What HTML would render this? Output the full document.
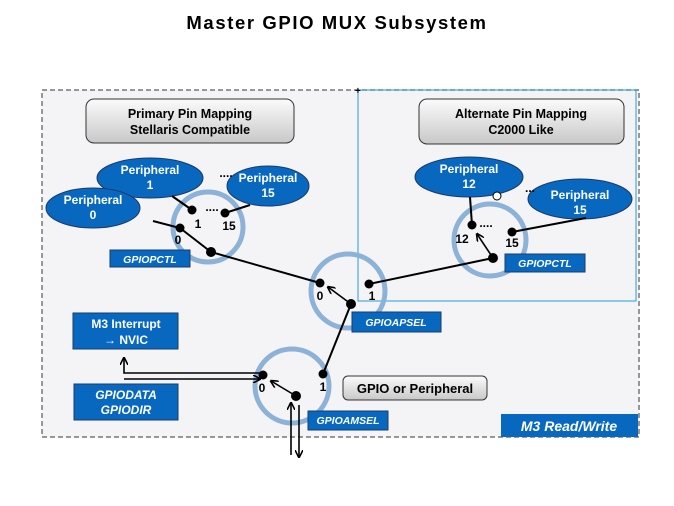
<!DOCTYPE html>
<html><head><meta charset="utf-8"><style>
html,body{margin:0;padding:0;background:#fff;}
svg{display:block;}
text{font-family:"Liberation Sans",Arial,sans-serif;font-weight:bold;}
</style></head><body>
<svg width="674" height="506" viewBox="0 0 674 506" xmlns="http://www.w3.org/2000/svg">
<defs>
<linearGradient id="g" x1="0" y1="0" x2="0" y2="1">
<stop offset="0" stop-color="#fbfbfb"/><stop offset="1" stop-color="#c8c8c8"/>
</linearGradient>
<marker id="ah" markerWidth="8" markerHeight="8" refX="7" refY="4" orient="auto" markerUnits="userSpaceOnUse">
<path d="M0,0 L8,4 L0,8" fill="none" stroke="#000" stroke-width="1.6"/>
</marker>
</defs>
<text x="337" y="29" font-size="18.5" letter-spacing="1.6" text-anchor="middle" fill="#000">Master GPIO MUX Subsystem</text>
<rect x="42" y="90" width="597" height="347" fill="#f4f4f7" stroke="#777" stroke-width="1.5" stroke-dasharray="5,3"/>
<rect x="358" y="90" width="278" height="211" fill="none" stroke="#2a9ad8" stroke-width="1"/>
<text x="355" y="94" font-size="10" font-weight="normal" fill="#000">+</text>

<rect x="86" y="99" width="208" height="44" rx="8" fill="url(#g)" stroke="#333" stroke-width="1"/>
<text x="190" y="118" font-size="12.5" text-anchor="middle">Primary Pin Mapping</text>
<text x="190" y="134" font-size="12.5" text-anchor="middle">Stellaris Compatible</text>
<rect x="419" y="99" width="205" height="45" rx="8" fill="url(#g)" stroke="#333" stroke-width="1"/>
<text x="521" y="118" font-size="12.5" text-anchor="middle">Alternate Pin Mapping</text>
<text x="521" y="134" font-size="12.5" text-anchor="middle">C2000 Like</text>

<g fill="none" stroke="#8cb2d8" stroke-width="5">
<circle cx="208" cy="227" r="35"/>
<circle cx="348" cy="291" r="37"/>
<circle cx="490" cy="240" r="36"/>
<circle cx="292" cy="386" r="37"/>
</g>

<g fill="#0868c0" stroke="#1a3a6a" stroke-width="1">
<ellipse cx="150" cy="178" rx="53" ry="20"/>
<ellipse cx="93" cy="208" rx="47" ry="20"/>
<ellipse cx="268" cy="186" rx="41" ry="20"/>
<ellipse cx="469" cy="177" rx="54" ry="20"/>
<ellipse cx="580" cy="199" rx="52" ry="20"/>
</g>
<g fill="#fff" font-size="12" text-anchor="middle">
<text x="150" y="174">Peripheral</text><text x="150" y="189">1</text>
<text x="93" y="204">Peripheral</text><text x="93" y="219">0</text>
<text x="268" y="182">Peripheral</text><text x="268" y="197">15</text>
<text x="469" y="173">Peripheral</text><text x="469" y="188">12</text>
<text x="580" y="199">Peripheral</text><text x="580" y="214">15</text>
</g>
<g font-size="12" text-anchor="middle" fill="#000">
<text x="226" y="177">....</text>
<text x="212" y="211">....</text>
<text x="530" y="192">...</text>
<text x="486" y="227">....</text>
</g>
<circle cx="497" cy="196" r="4" fill="#fff" stroke="#000" stroke-width="1"/>

<g stroke="#000" stroke-width="2" fill="none">
<line x1="172" y1="196" x2="192" y2="210"/>
<line x1="250" y1="205" x2="225" y2="213"/>
<polyline points="153,221 180,228 211,252 320,283"/>
<line x1="470" y1="197" x2="472" y2="225"/>
<line x1="586" y1="218" x2="512" y2="232"/>
<line x1="493" y1="258" x2="369" y2="284"/>
<line x1="351" y1="304" x2="323" y2="374"/>
</g>
<g stroke="#000" stroke-width="1.6" fill="none">
<line x1="351" y1="304" x2="328" y2="287" marker-end="url(#ah)"/>
<line x1="493" y1="258" x2="477" y2="234" marker-end="url(#ah)"/>
<line x1="296" y1="396" x2="271" y2="381" marker-end="url(#ah)"/>
<polyline points="263,373 124,373 124,358" marker-end="url(#ah)"/>
<line x1="124" y1="379" x2="260" y2="379" marker-end="url(#ah)"/>
<line x1="291" y1="455" x2="291" y2="403" marker-end="url(#ah)"/>
<line x1="299" y1="405" x2="299" y2="457" marker-end="url(#ah)"/>
</g>
<g fill="#000">
<circle cx="192" cy="210" r="4.5"/><circle cx="225" cy="213" r="4.5"/>
<circle cx="180" cy="228" r="4.5"/><circle cx="211" cy="252" r="5"/>
<circle cx="320" cy="283" r="4.5"/><circle cx="369" cy="284" r="4.5"/>
<circle cx="351" cy="304" r="5"/>
<circle cx="472" cy="225" r="4.5"/><circle cx="512" cy="232" r="4.5"/>
<circle cx="493" cy="258" r="5"/>
<circle cx="263" cy="375" r="4.5"/><circle cx="323" cy="374" r="4.5"/>
<circle cx="296" cy="396" r="5"/>
</g>
<g font-size="12" text-anchor="middle" fill="#000">
<text x="198" y="228">1</text><text x="229" y="230">15</text><text x="178" y="244">0</text>
<text x="320" y="300">0</text><text x="372" y="300">1</text>
<text x="462" y="243">12</text><text x="512" y="247">15</text>
<text x="262" y="392">0</text><text x="323" y="391">1</text>
</g>

<g fill="#0868c0" stroke="#1a3a6a" stroke-width="1">
<rect x="110" y="250" width="80" height="17"/>
<rect x="505" y="254" width="80" height="18"/>
<rect x="352" y="312" width="89" height="20"/>
<rect x="308" y="411" width="80" height="19"/>
<rect x="73" y="313" width="105" height="36"/>
<rect x="74" y="384" width="104" height="36"/>
</g>
<rect x="501" y="414" width="137" height="23" fill="#0868c0"/>
<g fill="#fff" font-size="10.5" font-style="italic" font-weight="normal" text-anchor="middle">
<text x="150" y="263">GPIOPCTL</text>
<text x="545" y="267">GPIOPCTL</text>
<text x="396" y="326">GPIOAPSEL</text>
<text x="348" y="424">GPIOAMSEL</text>
</g>
<g fill="#fff" font-size="12" text-anchor="middle">
<text x="126" y="328">M3 Interrupt</text>
<text x="126" y="344">→ NVIC</text>
<text x="126" y="399" font-style="italic">GPIODATA</text>
<text x="126" y="414" font-style="italic">GPIODIR</text>
<text x="569" y="431" font-size="14" font-style="italic">M3 Read/Write</text>
</g>
<rect x="343" y="376" width="144" height="24" rx="5" fill="url(#g)" stroke="#333" stroke-width="1"/>
<text x="415" y="393" font-size="13" text-anchor="middle">GPIO or Peripheral</text>
</svg>
</body></html>
